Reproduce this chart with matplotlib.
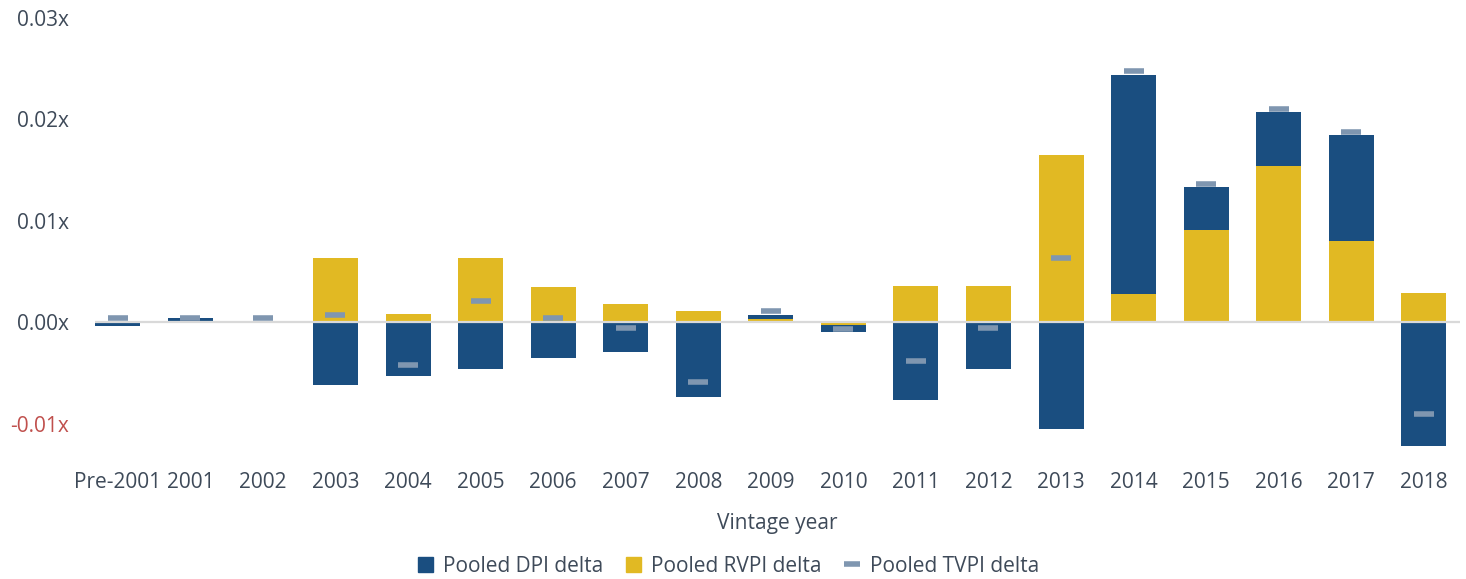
import matplotlib.pyplot as plt
import numpy as np
from matplotlib.lines import Line2D
from matplotlib.patches import Patch

years = ["Pre-2001", "2001", "2002", "2003", "2004", "2005", "2006", "2007", "2008", "2009",
         "2010", "2011", "2012", "2013", "2014", "2015", "2016", "2017", "2018"]
dpi_delta = [-0.0004, 0.0004, 0.0, -0.0062, -0.0053, -0.0046, -0.0035, -0.0029, -0.0074, 0.0004,
             -0.0007, -0.0077, -0.0046, -0.0105, 0.0216, 0.0042, 0.0053, 0.0105, -0.0122]
rvpi_delta = [0.0, 0.0, 0.0, 0.0063, 0.0008, 0.0063, 0.0035, 0.0018, 0.0011, 0.0003,
              -0.0003, 0.0036, 0.0036, 0.0165, 0.0028, 0.0091, 0.0154, 0.0080, 0.0029]
tvpi_delta = [0.0004, 0.0004, 0.0004, 0.0007, -0.0042, 0.0021, 0.0004, -0.0006, -0.0059, 0.0011,
              -0.0007, -0.0038, -0.0006, 0.0063, 0.0248, 0.0136, 0.0210, 0.0188, -0.0090]
yticks = [-0.01, 0.0, 0.01, 0.02, 0.03]

DPI_COLOR = "#1a4e80"
RVPI_COLOR = "#e1b923"
TVPI_COLOR = "#7f96b0"
TEXT = "#3e4a59"
FS = 15

plt.rcParams["font.family"] = ["Open Sans", "DejaVu Sans"]

fig = plt.figure(figsize=(14.66, 5.79), dpi=100)
ax = fig.add_axes([0.065, 0.207, 0.931, 0.762])

x = np.arange(len(years))
rvpi = np.array(rvpi_delta)
dpi = np.array(dpi_delta)
width = 0.62

# RVPI first, DPI stacked on the same side
ax.bar(x, rvpi, width, color=RVPI_COLOR, zorder=2)
dpi_bottom = np.where(np.sign(dpi) == np.sign(rvpi), rvpi, 0.0)
ax.bar(x, dpi, width, bottom=dpi_bottom, color=DPI_COLOR, zorder=2)

ax.axhline(0, color="#d9d9d9", lw=1.6, zorder=3)
ax.plot(x, tvpi_delta, ls="none", marker="_", markersize=14, mew=4, color=TVPI_COLOR, zorder=4)

ax.set_xlim(-0.31, 18.5)
ax.set_ylim(-0.0135, 0.03)
ax.set_yticks(yticks)
ax.set_yticklabels([f"{v:.2f}x" for v in yticks])
ax.set_xticks(x)
ax.set_xticklabels(years)
ax.tick_params(axis="both", length=0, labelsize=FS, colors=TEXT)
ax.tick_params(axis="x", pad=9)
ax.tick_params(axis="y", pad=19)
for lab, v in zip(ax.get_yticklabels(), yticks):
    lab.set_color("#c0504d" if v < 0 else TEXT)
for s in ax.spines.values():
    s.set_visible(False)

ax.set_xlabel("Vintage year", fontsize=FS, color=TEXT, labelpad=15)

handles = [
    Patch(color=DPI_COLOR, label="Pooled DPI delta"),
    Patch(color=RVPI_COLOR, label="Pooled RVPI delta"),
    Line2D([], [], ls="none", marker="_", markersize=12, mew=4, color=TVPI_COLOR, label="Pooled TVPI delta"),
]
leg = fig.legend(handles=handles, loc="center", bbox_to_anchor=(0.497, 0.022), ncol=3, frameon=False,
                 fontsize=FS, handlelength=0.7, handleheight=0.7, handletextpad=0.5, columnspacing=1.1)
for t in leg.get_texts():
    t.set_color(TEXT)

fig.savefig("out.png", dpi=100)
